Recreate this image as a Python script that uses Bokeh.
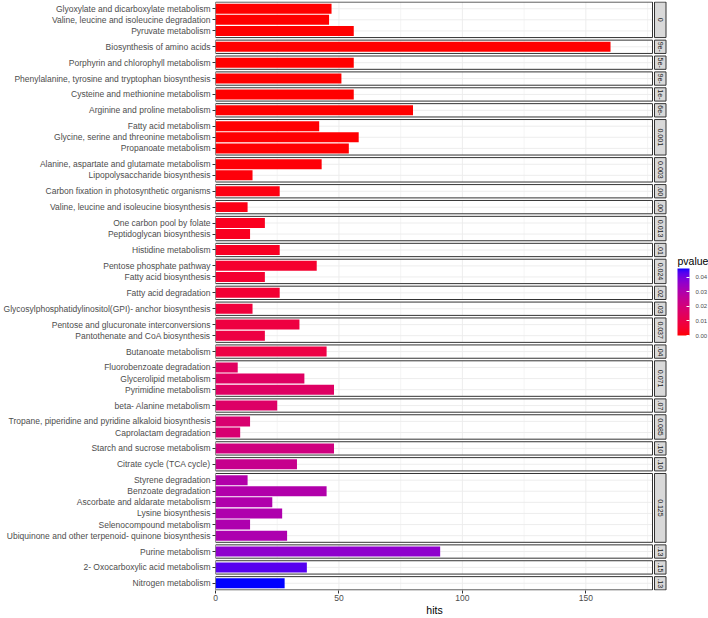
import math
from bokeh.plotting import figure
from bokeh.layouts import row
from bokeh.models import (Range1d, FixedTicker, LinearColorMapper, ColorBar,
                          PrintfTickFormatter, ColumnDataSource, Label)
from bokeh.core.properties import value
from bokeh.embed import file_html
from bokeh.resources import INLINE

# ---------------- data ----------------
pathways = [
    "Glyoxylate and dicarboxylate metabolism",
    "Valine, leucine and isoleucine degradation",
    "Pyruvate metabolism",
    "Biosynthesis of amino acids",
    "Porphyrin and chlorophyll metabolism",
    "Phenylalanine, tyrosine and tryptophan biosynthesis",
    "Cysteine and methionine metabolism",
    "Arginine and proline metabolism",
    "Fatty acid metabolism",
    "Glycine, serine and threonine metabolism",
    "Propanoate metabolism",
    "Alanine, aspartate and glutamate metabolism",
    "Lipopolysaccharide biosynthesis",
    "Carbon fixation in photosynthetic organisms",
    "Valine, leucine and isoleucine biosynthesis",
    "One carbon pool by folate",
    "Peptidoglycan biosynthesis",
    "Histidine metabolism",
    "Pentose phosphate pathway",
    "Fatty acid biosynthesis",
    "Fatty acid degradation",
    "Glycosylphosphatidylinositol(GPI)- anchor biosynthesis",
    "Pentose and glucuronate interconversions",
    "Pantothenate and CoA biosynthesis",
    "Butanoate metabolism",
    "Fluorobenzoate degradation",
    "Glycerolipid metabolism",
    "Pyrimidine metabolism",
    "beta- Alanine metabolism",
    "Tropane, piperidine and pyridine alkaloid biosynthesis",
    "Caprolactam degradation",
    "Starch and sucrose metabolism",
    "Citrate cycle (TCA cycle)",
    "Styrene degradation",
    "Benzoate degradation",
    "Ascorbate and aldarate metabolism",
    "Lysine biosynthesis",
    "Selenocompound metabolism",
    "Ubiquinone and other terpenoid- quinone biosynthesis",
    "Purine metabolism",
    "2- Oxocarboxylic acid metabolism",
    "Nitrogen metabolism",
]
hits = [47, 46, 56, 160, 56, 51, 56, 80, 42, 58, 54, 43, 15, 26, 13, 20, 14, 26,
        41, 20, 26, 15, 34, 20, 45, 9, 36, 48, 25, 14, 10, 48, 33, 13, 45, 23,
        27, 14, 29, 91, 37, 28]
pvalue = [1e-6, 2e-6, 3e-6, 2e-5, 5e-5, 9e-5, 1.2e-4, 1.6e-4,
          0.00025, 0.0003, 0.00035, 0.0007, 0.0008, 0.0014, 0.0018,
          0.0029, 0.0031, 0.0036, 0.0055, 0.0057, 0.0062, 0.0078,
          0.0088, 0.0090, 0.0095, 0.0148, 0.0152, 0.0155, 0.0160,
          0.0178, 0.0182, 0.0212, 0.0240,
          0.0296, 0.0298, 0.0300, 0.0302, 0.0304, 0.0306,
          0.0363, 0.0428, 0.0460]
panel = [0, 0, 0, 1, 2, 3, 4, 5, 6, 6, 6, 7, 7, 8, 9, 10, 10, 11, 12, 12, 13, 14,
         15, 15, 16, 17, 17, 17, 18, 19, 19, 20, 21, 22, 22, 22, 22, 22, 22, 23,
         24, 25]
strip_labels = ["0", "9e-", "5e-", "9e-", "1e-", "6e-", "0.001", "0.003", ".00",
                ".00", "0.013", ".01", "0.024", ".02", ".03", "0.037", ".04",
                "0.071", ".07", "0.085", ".10", ".10", "0.125", ".13", ".15", ".13"]
x_ticks = [0, 50, 100, 150]
legend_ticks = [0.0, 0.01, 0.02, 0.03, 0.04]

# ---------------- style / layout ----------------
FONT = "Liberation Sans"
XMAX = 177.0
GAP = 0.231
EXPAND = 0.6
H = 618
LEFT, TOP, BOTTOM = 215, 1, 27
PANEL_PX = 437.0
W1 = LEFT + int(PANEL_PX) + 1
W2 = 708 - W1
XEND = XMAX * (PANEL_PX + 1) / PANEL_PX


def srgb_to_lin(c):
    c = c / 255.0
    return c / 12.92 if c <= 0.04045 else ((c + 0.055) / 1.055) ** 2.4


def lin_to_srgb(c):
    c = max(0.0, min(1.0, c))
    v = 12.92 * c if c <= 0.0031308 else 1.055 * c ** (1 / 2.4) - 0.055
    return int(round(max(0.0, min(1.0, v)) * 255))


XN, YN, ZN = 0.95047, 1.0, 1.08883


def rgb_to_lab(rgb):
    r, g, b = [srgb_to_lin(c) for c in rgb]
    X = 0.4124 * r + 0.3576 * g + 0.1805 * b
    Y = 0.2126 * r + 0.7152 * g + 0.0722 * b
    Z = 0.0193 * r + 0.1192 * g + 0.9505 * b

    def f(t):
        return t ** (1 / 3) if t > 216 / 24389 else (24389 / 27 * t + 16) / 116
    fx, fy, fz = f(X / XN), f(Y / YN), f(Z / ZN)
    return (116 * fy - 16, 500 * (fx - fy), 200 * (fy - fz))


def lab_to_rgb(lab):
    L, a, b = lab
    fy = (L + 16) / 116
    fx = fy + a / 500
    fz = fy - b / 200

    def finv(t):
        return t ** 3 if t ** 3 > 216 / 24389 else (116 * t - 16) / (24389 / 27)
    X, Y, Z = XN * finv(fx), YN * finv(fy), ZN * finv(fz)
    r = 3.2406 * X - 1.5372 * Y - 0.4986 * Z
    g = -0.9689 * X + 1.8758 * Y + 0.0415 * Z
    bb = 0.0557 * X - 0.2040 * Y + 1.0570 * Z
    return "#%02x%02x%02x" % (lin_to_srgb(r), lin_to_srgb(g), lin_to_srgb(bb))


lab_lo = rgb_to_lab((255, 0, 0))
lab_hi = rgb_to_lab((0, 0, 255))
palette = [lab_to_rgb(tuple(lab_lo[j] + (lab_hi[j] - lab_lo[j]) * i / 255 for j in range(3)))
           for i in range(256)]
mapper = LinearColorMapper(palette=palette, low=0.0, high=max(pvalue))

# panel geometry (discrete scale, free space)
npan = len(strip_labels)
counts = [panel.count(k) for k in range(npan)]
tops, bottoms = [], []
s = 0.0
for k in range(npan):
    tops.append(round(s, 4))
    bottoms.append(round(s + counts[k] - 1 + 2 * EXPAND, 4))
    s = bottoms[-1] + GAP
total = bottoms[-1]
seen = [0] * npan
row_y = []
for k in panel:
    row_y.append(round(tops[k] + EXPAND + seen[k], 4))
    seen[k] += 1

yr = Range1d(total + 0.05, -0.05)

# ---------------- main panel figure ----------------
p = figure(width=W1, height=H, x_range=Range1d(0, XEND), y_range=yr,
           output_backend="svg", toolbar_location=None,
           min_border_left=LEFT, min_border_right=0, min_border_top=TOP,
           min_border_bottom=BOTTOM, background_fill_color="white",
           border_fill_color="white")
p.outline_line_color = None
p.xgrid.visible = False
p.ygrid.visible = False

p.quad(left=0, right=XMAX, top=tops, bottom=bottoms, fill_color="white",
       line_color=None)

maj_x0, maj_y0, maj_y1, min_x0, min_y0, min_y1 = [], [], [], [], [], []
for k in range(npan):
    for gx in range(25, int(XMAX) + 1, 25):
        if gx % 50 == 0:
            maj_x0.append(gx); maj_y0.append(tops[k]); maj_y1.append(bottoms[k])
        else:
            min_x0.append(gx); min_y0.append(tops[k]); min_y1.append(bottoms[k])
p.segment(x0=min_x0, y0=min_y0, x1=min_x0, y1=min_y1, line_color="#EBEBEB",
          line_width=0.5)
p.segment(x0=maj_x0, y0=maj_y0, x1=maj_x0, y1=maj_y1, line_color="#EBEBEB",
          line_width=0.9)
p.segment(x0=[0] * len(row_y), y0=row_y, x1=[XMAX] * len(row_y), y1=row_y,
          line_color="#EBEBEB", line_width=0.9)

src = ColumnDataSource(dict(y=row_y, hits=hits, pvalue=pvalue, name=pathways))
p.hbar(y="y", left=0, right="hits", height=0.9, source=src,
       fill_color={"field": "pvalue", "transform": mapper}, line_color=None)

p.quad(left=0, right=XMAX, top=tops, bottom=bottoms, fill_color=None,
       line_color="#333333", line_width=1)

ya = p.yaxis[0]
ya.ticker = FixedTicker(ticks=row_y)
ya.major_label_overrides = {y: n for y, n in zip(row_y, pathways)}
ya.minor_tick_line_color = None
ya.axis_line_color = None
ya.major_tick_out = 3
ya.major_tick_in = 0
ya.major_tick_line_color = "#333333"
ya.major_label_text_font = FONT
ya.major_label_text_font_size = "8.5px"
ya.major_label_text_color = "#4D4D4D"
ya.major_label_standoff = 2

xa = p.xaxis[0]
xa.ticker = FixedTicker(ticks=x_ticks)
xa.minor_tick_line_color = None
xa.axis_line_color = None
xa.major_tick_out = 3
xa.major_tick_in = 0
xa.major_tick_line_color = "#333333"
xa.major_label_text_font = FONT
xa.major_label_text_font_size = "8.5px"
xa.major_label_text_color = "#4D4D4D"
xa.major_label_standoff = 1
xa.axis_label = "hits"
xa.axis_label_standoff = 0
xa.axis_label_text_font = FONT
xa.axis_label_text_font_size = "10.5px"
xa.axis_label_text_font_style = "normal"
xa.axis_label_text_color = "black"

# ---------------- strips + legend figure ----------------
p2 = figure(width=W2, height=H, x_range=Range1d(0, W2), y_range=yr,
            output_backend="svg", toolbar_location=None,
            min_border_left=0, min_border_right=0, min_border_top=TOP,
            min_border_bottom=BOTTOM, background_fill_color="white",
            border_fill_color="white")
p2.outline_line_color = None
p2.xaxis.visible = False
p2.yaxis.visible = False
p2.xgrid.visible = False
p2.ygrid.visible = False

SX0, SX1 = 1.0, 12.5
p2.quad(left=SX0, right=SX1, top=tops, bottom=bottoms, fill_color="#D9D9D9",
        line_color="#333333", line_width=1)
p2.text(x=[(SX0 + SX1) / 2] * npan, y=[(t + b) / 2 for t, b in zip(tops, bottoms)],
        text=strip_labels, angle=-math.pi / 2, text_align="center",
        text_baseline="middle", text_font=value(FONT), text_font_size="7px",
        text_color="#1A1A1A")

cb = ColorBar(color_mapper=mapper, ticker=FixedTicker(ticks=legend_ticks),
              formatter=PrintfTickFormatter(format="%.2f"),
              width=12, height=67, padding=0, location=(24, 255),
              major_label_text_font=FONT, major_label_text_font_size="6px",
              major_label_text_color="#4D4D4D", label_standoff=6,
              major_tick_line_color="white", major_tick_in=3, major_tick_out=0,
              bar_line_color=None, background_fill_color=None,
              border_line_color=None)
p2.add_layout(cb, "center")
p2.add_layout(Label(x=24, y=324, x_units="screen", y_units="screen",
                    text="pvalue", text_align="left", text_baseline="bottom",
                    text_font=FONT, text_font_size="10.5px", text_color="black"))

layout = row(p, p2, spacing=0)
open("out.html", "w").write(file_html(layout, INLINE))
